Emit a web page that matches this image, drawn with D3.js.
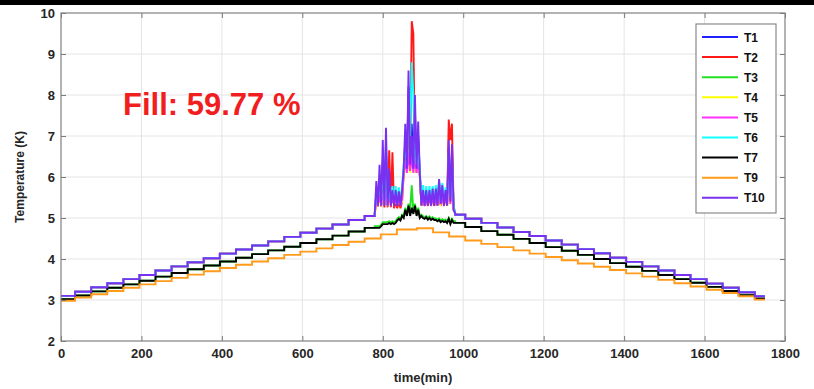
<!DOCTYPE html>
<html><head><meta charset="utf-8">
<script src="https://cdn.jsdelivr.net/npm/d3@7/dist/d3.min.js"></script>
<style>body{margin:0;background:#fff}svg{display:block}</style>
</head><body>
<svg id="c" width="814" height="389"></svg>
<script>
// ---- data ----
const xTicks = [0,200,400,600,800,1000,1200,1400,1600,1800];
const yTicks = [2,3,4,5,6,7,8,9,10];
const seriesNames = ["T1","T2","T3","T4","T5","T6","T7","T9","T10"];
const seriesColors = ["#2020ff","#ff1a1a","#22e022","#ffff00","#ff30ff","#10ffff","#000000","#ff9a1a","#7a30f0"];

// staircase (setpoint) step times, min
const stepTimes = [0,35,75,115,155,195,235,275,315,355,395,435,475,515,555,595,635,675,715,755,795,835,
  885,925,965,1005,1045,1085,1125,1165,1205,1245,1285,1325,1365,1405,1445,1485,1525,1565,1605,1645,1685,1725];
const endTime = 1750;
const levelsUpper = [3.10,3.20,3.31,3.41,3.51,3.61,3.72,3.82,3.92,4.02,4.13,4.23,4.33,4.43,4.54,4.64,4.74,4.84,4.95,5.05,5.15,5.25,
  5.20,5.14,5.08,4.98,4.88,4.77,4.66,4.56,4.45,4.35,4.24,4.14,4.03,3.93,3.82,3.72,3.61,3.51,3.40,3.30,3.19,3.09];
const levelsT7 = [3.02,3.11,3.21,3.30,3.38,3.47,3.57,3.66,3.75,3.84,3.94,4.03,4.12,4.21,4.30,4.39,4.48,4.57,4.67,4.76,4.85,4.94,
  5.00,4.95,4.88,4.78,4.68,4.59,4.49,4.39,4.29,4.20,4.10,4.00,3.90,3.81,3.71,3.61,3.51,3.42,3.32,3.22,3.12,3.03];
const levelsT9 = [2.98,3.06,3.14,3.22,3.30,3.38,3.46,3.54,3.62,3.70,3.78,3.86,3.94,4.02,4.10,4.18,4.26,4.34,4.42,4.50,4.60,4.72,
  4.75,4.65,4.55,4.45,4.37,4.29,4.21,4.13,4.05,3.97,3.89,3.81,3.73,3.65,3.57,3.49,3.41,3.33,3.25,3.17,3.09,3.01];

// noisy section around the peak
const spikeTimes = [780,784,788,792,796,800,804,808,812,816,820,824,828,832,836,840,844,848,852,856,860,864,868,872,876,880,
  884,888,892,896,900,904,908,912,916,920,924,928,932,936,940,944,948,952,956,960,964,968,972,976,980];
const spikeT1 = [5.1,5.6,5.33,5.9,5.33,6.4,5.33,6.8,5.33,5.9,5.33,5.55,5.33,5.55,5.33,5.5,5.33,5.55,6.15,6.9,6.15,8.2,6.25,7.3,6.2,7.6,
  6.15,7.0,6.1,5.33,5.55,5.33,5.55,5.33,5.55,5.33,5.6,5.33,5.6,5.33,5.85,5.33,5.7,5.33,5.55,5.33,6.7,5.4,6.6,5.2,5.12];
const spikeT2 = [5.1,5.5,5.28,5.8,5.28,6.0,5.26,6.3,5.26,6.65,5.26,6.6,5.24,5.4,5.24,5.4,5.24,5.4,6.1,6.5,6.1,7.5,6.5,9.8,9.5,6.4,
  6.1,6.5,6.05,5.3,5.5,5.3,5.5,5.3,5.5,5.3,5.5,5.3,5.5,5.3,5.7,5.3,5.6,5.3,5.5,5.3,7.4,6.9,7.3,5.3,5.12];
const spikeT3 = [4.8,4.8,4.8,4.8,4.84,4.9,4.9,4.9,4.9,4.92,4.9,4.92,4.9,4.92,4.98,5.02,4.98,5.08,5.05,5.25,5.1,5.35,5.2,5.8,5.15,5.35,
  5.1,5.25,5.05,5.08,5.04,5.02,5.05,5.0,5.04,4.99,5.02,4.99,4.99,4.96,4.99,4.94,4.97,4.94,4.96,4.92,5.0,4.9,4.98,4.92,4.92];
const spikeT4 = [5.1,5.3,5.34,5.4,5.34,5.5,5.34,5.5,5.34,5.4,5.34,5.4,5.34,5.4,5.34,5.4,5.34,5.4,6.1,6.3,6.1,6.4,6.1,6.4,6.1,6.4,
  6.1,6.3,6.05,5.34,5.4,5.34,5.4,5.34,5.4,5.34,5.4,5.34,5.4,5.34,5.5,5.34,5.45,5.34,5.4,5.34,5.8,5.34,5.7,5.2,5.12];
const spikeT5 = [5.1,5.4,5.34,5.5,5.34,5.6,5.34,5.7,5.34,5.5,5.34,5.45,5.34,5.45,5.34,5.45,5.34,5.45,6.1,6.4,6.1,6.6,6.15,6.5,6.1,6.5,
  6.1,6.4,6.05,5.34,5.45,5.34,5.45,5.34,5.45,5.34,5.45,5.34,5.45,5.34,5.6,5.34,5.5,5.34,5.45,5.34,6.0,5.34,5.9,5.2,5.12];
const spikeT6 = [5.1,5.7,5.42,5.9,5.42,6.2,5.42,6.5,5.42,5.75,5.42,5.78,5.42,5.78,5.42,5.75,5.42,5.75,6.3,6.8,6.3,7.5,7.0,8.8,8.0,6.6,
  6.3,6.6,6.2,5.42,5.8,5.42,5.78,5.42,5.78,5.42,5.78,5.42,5.8,5.42,5.9,5.42,5.85,5.42,5.75,5.42,6.6,5.5,6.5,5.3,5.12];
const spikeT7 = [4.76,4.76,4.76,4.76,4.8,4.85,4.85,4.85,4.85,4.88,4.85,4.88,4.85,4.88,4.94,4.98,4.94,5.05,5.0,5.2,5.05,5.3,5.05,5.25,5.1,5.3,
  5.05,5.2,5.0,5.05,5.0,4.98,5.02,4.96,5.0,4.95,4.98,4.95,4.95,4.92,4.95,4.9,4.93,4.9,4.92,4.88,4.98,4.85,4.95,4.88,4.88];
const spikeT10 = [5.1,5.9,5.3,6.3,5.3,6.9,5.3,7.2,5.3,6.2,5.3,5.68,5.3,5.68,5.3,5.65,5.3,5.68,6.2,7.3,6.2,8.6,6.3,7.0,6.2,8.0,
  6.2,7.35,6.1,5.3,5.68,5.3,5.68,5.3,5.68,5.3,5.72,5.3,5.72,5.3,5.95,5.35,5.8,5.3,5.68,5.3,6.9,5.4,6.8,5.2,5.12];

const fillLabel = "Fill: 59.77 %";

// ---- build ----
const seriesLevels = [levelsUpper,levelsUpper,levelsT7,levelsUpper,levelsUpper,levelsUpper,levelsT7,levelsT9,levelsUpper];
const seriesSpikes = [spikeT1,spikeT2,spikeT3,spikeT4,spikeT5,spikeT6,spikeT7,null,spikeT10];

function levelAt(levels, t){ let v = levels[0]; for(let i=0;i<stepTimes.length;i++){ if(stepTimes[i]<=t) v=levels[i]; } return v; }
function buildPoints(levels, spike){
  const pts=[];
  for(let i=0;i<stepTimes.length;i++){
    const t0=stepTimes[i], t1 = i+1<stepTimes.length? stepTimes[i+1] : endTime;
    pts.push([t0,levels[i]],[t1,levels[i]]);
  }
  if(!spike) return pts;
  const a=spikeTimes[0], b=spikeTimes[spikeTimes.length-1];
  const out = pts.filter(p=>p[0]<a);
  out.push([a, levelAt(levels,a)]);
  spikeTimes.forEach((t,i)=>out.push([t,spike[i]]));
  out.push([b, levelAt(levels,b)]);
  pts.filter(p=>p[0]>b).forEach(p=>out.push(p));
  return out;
}

const svg = d3.select("#c");
const W=814,H=389;
const L=61,R=785,T=13,B=341;
const x = d3.scaleLinear().domain([0,1800]).range([L,R]);
const y = d3.scaleLinear().domain([2,10]).range([B,T]);

svg.append("rect").attr("x",0).attr("y",0).attr("width",W).attr("height",H).attr("fill","#fff");
svg.append("rect").attr("x",0).attr("y",0).attr("width",W).attr("height",5).attr("fill","#000");

// grid
const g = svg.append("g");
g.selectAll(".gx").data(xTicks.slice(1,-1)).join("line")
  .attr("x1",d=>x(d)).attr("x2",d=>x(d)).attr("y1",T).attr("y2",B)
  .attr("stroke","#e4e4e4").attr("stroke-width",1);
g.selectAll(".gy").data(yTicks.slice(1,-1)).join("line")
  .attr("y1",d=>y(d)).attr("y2",d=>y(d)).attr("x1",L).attr("x2",R)
  .attr("stroke","#e4e4e4").attr("stroke-width",1);

// lines
svg.append("clipPath").attr("id","pc").append("rect").attr("x",L).attr("y",T).attr("width",R-L).attr("height",B-T);
const line = d3.line().x(d=>x(d[0])).y(d=>y(d[1]));
const lg = svg.append("g").attr("clip-path","url(#pc)");
seriesNames.forEach((n,i)=>{
  lg.append("path").datum(buildPoints(seriesLevels[i], seriesSpikes[i]))
    .attr("d",line).attr("fill","none").attr("stroke",seriesColors[i])
    .attr("stroke-width",1.9).attr("stroke-linejoin","miter");
});

// axes
const tickFont = "bold 13px 'Liberation Sans', Arial, sans-serif";
const axB = svg.append("g").attr("transform",`translate(0,${B})`)
  .call(d3.axisBottom(x).tickValues(xTicks).tickSizeInner(-5).tickSizeOuter(0).tickPadding(8).tickFormat(d3.format("d")));
const axL = svg.append("g").attr("transform",`translate(${L},0)`)
  .call(d3.axisLeft(y).tickValues(yTicks).tickSizeInner(-5).tickSizeOuter(0).tickPadding(6).tickFormat(d3.format("d")));
const axT = svg.append("g").attr("transform",`translate(0,${T})`)
  .call(d3.axisTop(x).tickValues(xTicks).tickSizeInner(-5).tickSizeOuter(0).tickFormat(""));
const axR = svg.append("g").attr("transform",`translate(${R},0)`)
  .call(d3.axisRight(y).tickValues(yTicks).tickSizeInner(-5).tickSizeOuter(0).tickFormat(""));
[axB,axL,axT,axR].forEach(a=>{
  a.select(".domain").remove();
  a.selectAll("line").attr("stroke","#7a7a7a");
  a.selectAll("text").style("font",tickFont).attr("fill","#262626");
});
svg.append("rect").attr("x",L).attr("y",T).attr("width",R-L).attr("height",B-T)
  .attr("fill","none").attr("stroke","#808080").attr("stroke-width",1.2);

// axis labels
svg.append("text").attr("x",(L+R)/2).attr("y",382).attr("text-anchor","middle")
  .style("font","bold 13px 'Liberation Sans', Arial, sans-serif").attr("fill","#262626").text("time(min)");
svg.append("text").attr("transform",`translate(24,${(T+B)/2}) rotate(-90)`).attr("text-anchor","middle")
  .style("font","bold 12px 'Liberation Sans', Arial, sans-serif").attr("fill","#262626").text("Temperature (K)");

// fill annotation
svg.append("text").attr("x",123).attr("y",115)
  .style("font","bold 31px 'Liberation Sans', Arial, sans-serif").attr("fill","#f01e1e").text(fillLabel);

// legend
const lgX=696, lgY=24, lgW=80, lgH=189;
svg.append("rect").attr("x",lgX).attr("y",lgY).attr("width",lgW).attr("height",lgH)
  .attr("fill","#fff").attr("stroke","#8a8a8a").attr("stroke-width",1.2);
const leg = svg.append("g");
seriesNames.forEach((n,i)=>{
  const yy = 37 + i*20.1;
  leg.append("line").attr("x1",702).attr("x2",738).attr("y1",yy).attr("y2",yy)
    .attr("stroke",seriesColors[i]).attr("stroke-width",2);
  leg.append("text").attr("x",744).attr("y",yy+4.5)
    .style("font","bold 12px 'Liberation Sans', Arial, sans-serif").attr("fill","#111").text(n);
});
</script>
</body></html>
